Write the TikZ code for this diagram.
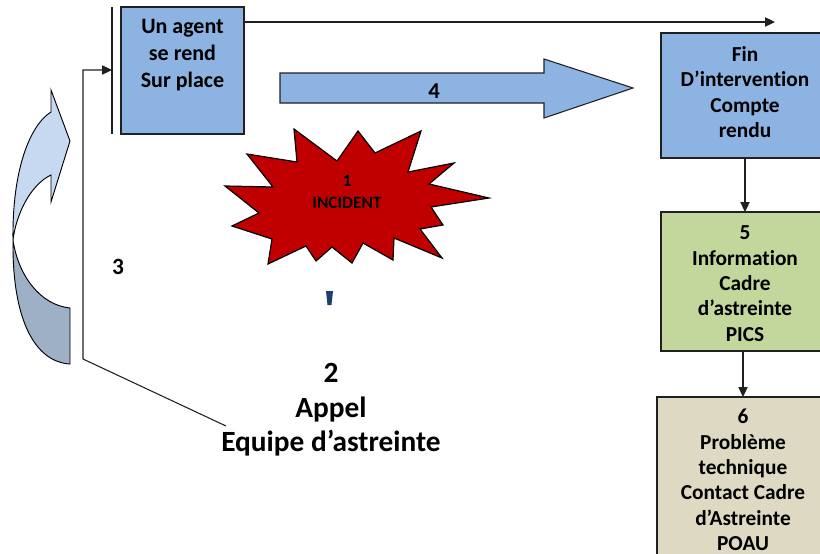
\documentclass[tikz,border=0pt]{standalone}
\usepackage{fontspec}
\setmainfont{Carlito}[Ligatures=NoCommon]
\usetikzlibrary{arrows.meta}
\definecolor{boxblue}{HTML}{8DB3E2}
\definecolor{boxgreen}{HTML}{C3D69B}
\definecolor{boxbeige}{HTML}{DDD9C3}
\definecolor{burstred}{HTML}{C00000}
\definecolor{curvelight}{HTML}{C6D9F1}
\definecolor{curvedark}{HTML}{9EB0C6}
\definecolor{markblue}{HTML}{1F3F6F}
\definecolor{linegray}{HTML}{202020}
\tikzset{
  boxshape/.style={draw=linegray, line width=1pt, inner sep=0pt, outer sep=0pt},
  boxtext/.style={font=\bfseries\fontsize{16}{19}\selectfont, align=center, inner sep=0pt, text=black},
  agenttext/.style={font=\bfseries\fontsize{16.5}{20.25}\selectfont, align=center, inner sep=0pt, text=black},
  conn/.style={draw=linegray, line width=0.8pt},
  arr/.style={conn, -{Triangle[length=7.5pt,width=7pt]}},
}
\begin{document}
\begin{tikzpicture}[x=0.75pt,y=-0.75pt]
\useasboundingbox (0,0) rectangle (820,553);
\clip (0,0) rectangle (820,553);

% curved arrow on the left
\path[draw=black, line width=0.7pt, fill=curvedark]
  (13,240) .. controls (12,320) and (35,362) .. (70,364) -- (70,308)
  .. controls (40,305) and (18,275) .. (13,240) -- cycle;
\path[draw=black, line width=0.7pt, fill=curvelight]
  (13,240) .. controls (12,170) and (30,125) .. (51,112) -- (51,90) -- (70,141)
  -- (51,202) -- (51,175) .. controls (30,185) and (16,215) .. (13,240) -- cycle;

% boxes
\node[boxshape, fill=boxblue, minimum width=92.25pt, minimum height=95.25pt] (b1) at (182.5,70.5) {};
\node[agenttext] (t1) at (182.5,55.5) {Un agent\\se rend\\Sur place};
\node[boxshape, fill=boxblue, minimum width=126pt, minimum height=93.75pt] (b2) at (745,95.5) {};
\node[boxtext] (t2) at (745,92) {Fin\\D’intervention\\Compte\\rendu};
\node[boxshape, fill=boxgreen, minimum width=126pt, minimum height=104.25pt] (b5) at (745,281.5) {};
\node[boxtext] (t5) at (745,283.5) {5\\Information\\Cadre\\d’astreinte\\PICS};
\node[boxshape, fill=boxbeige, minimum width=129pt, minimum height=135pt] (b6) at (743,487) {};
\node[boxtext] (t6) at (743,480) {6\\Problème\\technique\\Contact Cadre\\d’Astreinte\\POAU};

% block arrow 4
\path[draw=linegray, line width=0.8pt, fill=boxblue]
  (280,73) -- (544,73) -- (544,59) -- (633,88) -- (544,118) -- (544,103) -- (280,103) -- cycle;
\node[font=\bfseries\fontsize{17}{20}\selectfont, inner sep=0pt] (n4) at (434,91) {4};

% starburst
\path[draw=black, line width=0.9pt, fill=burstred]
  (294,129) -- (297,162) -- (247,154) -- (273,187) -- (225,186) -- (259,213)
  -- (232,226) -- (272,239) -- (268,264) -- (306,246) -- (316,261) -- (332,247)
  -- (352,263) -- (363,243) -- (393,260) -- (394,238) -- (442,258) -- (420,229)
  -- (443,225) -- (431,207) -- (489,198) -- (429,184) -- (454,163) -- (408,172)
  -- (421,131) -- (375,153) -- (358,131) -- (337,161) -- cycle;
\node[font=\bfseries\fontsize{13}{16.5}\selectfont, align=center, inner sep=0pt] (inc) at (347,192) {1\\INCIDENT};

% small mark
\fill[markblue] (326,291) -- (333,291) -- (331.5,305) -- (327.5,305) -- cycle;

% labels
\node[font=\bfseries\fontsize{17.5}{20}\selectfont, inner sep=0pt] (n3) at (118,267) {3};
\node[font=\bfseries\fontsize{22}{26}\selectfont, align=center, inner sep=0pt] (n2) at (331,410) {2\\Appel\\Equipe d’astreinte};

% connectors
\coordinate (bartop) at (112,7);
\coordinate (barbot) at (112,134);
\draw[conn] (bartop) -- (barbot);
\coordinate (c2) at (226,426);
\coordinate (c3) at (83,359);
\coordinate (c4) at (83,70);
\coordinate (c5) at (112,70);
\draw[arr] (c2) -- (c3) -- (c4) -- (c5);
\coordinate (topend) at (775,22);
\draw[arr] (b1.east |- topend) -- (topend);
\draw[arr] (b2.south -| t5) -- (b5.north -| t5);
\draw[arr] (b5.south -| t6) -- (b6.north -| t6);
\end{tikzpicture}
\end{document}
